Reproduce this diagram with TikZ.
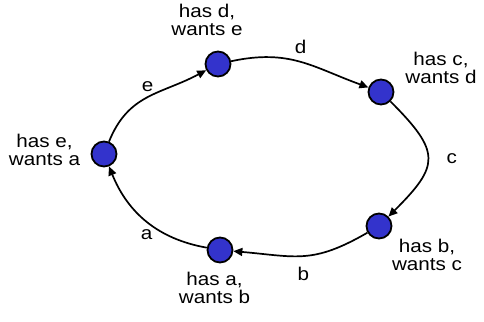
\documentclass[tikz,border=0pt]{standalone}
\usepackage{fontspec}
\setmainfont{Liberation Sans}[FakeStretch=1.12]
\usetikzlibrary{arrows.meta}
\definecolor{peerblue}{HTML}{3333CC}

\begin{document}
\begin{tikzpicture}[x=1bp,y=1bp,>={Triangle[length=9bp,width=8bp]},
  font=\fontsize{18.5}{18}\selectfont,
  peer/.style={circle,draw=black,line width=1.8bp,fill=peerblue,
    minimum size=25bp,inner sep=0pt},
  tag/.style={align=center,inner sep=0pt},
  lbl/.style={inner sep=1bp},
  link/.style={->,line width=1.7bp}]
\path[use as bounding box] (0,0) rectangle (484,321);
\fill[white] (0,0) rectangle (484,321);
% the five peers round the ring
\node[peer] (pd) at (218,257) {};
\node[peer] (pc) at (381,229) {};
\node[peer] (pb) at (379,95) {};
\node[peer] (pa) at (220,71) {};
\node[peer] (pe) at (104,167) {};
\node[tag] (td) at (207,301) {has d,\\wants e};
\node[tag] (tc) at (441,253) {has c,\\wants d};
\node[tag] (tb) at (427,66) {has b,\\wants c};
\node[tag] (ta) at (214.5,33) {has a,\\wants b};
\node[tag] (te) at (44.5,171) {has e,\\wants a};
% each peer hands its item on, clockwise
\draw[link] (pe) to[out=68,in=208,looseness=1.1] node[lbl,above=4bp] {e} (pd);
\draw[link] (pd) to[out=12,in=160,looseness=1.1] node[lbl,above=6bp] {d} (pc);
\draw[link] (pc) to[out=-45,in=45,looseness=1.6] node[lbl,right=17bp] {c} (pb);
\draw[link] (pb) to[out=210,in=-5,looseness=1.2] node[lbl,below=9bp] {b} (pa);
\draw[link] (pa) to[out=170,in=-68] node[lbl,below=7bp] {a} (pe);
\end{tikzpicture}
\end{document}
